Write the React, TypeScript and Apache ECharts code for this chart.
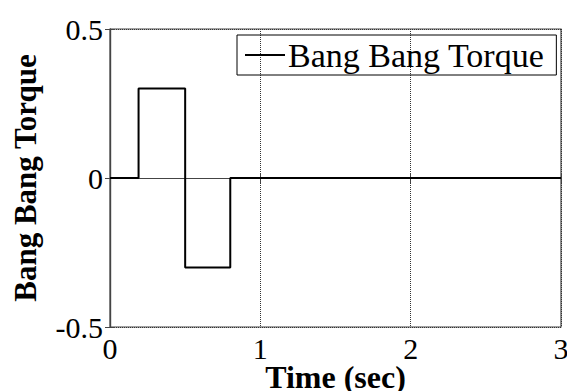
import React, { useEffect, useRef } from "react";
import * as echarts from "echarts";

// Step profile of the bang-bang control torque
const timeSec = [0, 0.19, 0.19, 0.5, 0.5, 0.8, 0.8, 3];
const torque = [0, 0, 0.3, 0.3, -0.3, -0.3, 0, 0];
const seriesName = "Bang Bang Torque";
const xTitle = "Time (sec)";
const yTitle = "Bang Bang Torque";

const FONT = "'Liberation Serif', 'Times New Roman', serif";

export default function App() {
  const ref = useRef<HTMLDivElement>(null);

  useEffect(() => {
    document.body.style.margin = "0";
    if (!ref.current) return;
    const chart = echarts.init(ref.current, undefined, { renderer: "svg" });
    const points = timeSec.map((t, i) => [t, torque[i]]);

    const dotted = { show: true, lineStyle: { color: "#333", type: "dotted" as const, width: 1 } };
    const axisLine = { show: true, lineStyle: { color: "#444", width: 1.2 } };
    const tick = { show: true, inside: true, length: 5, lineStyle: { color: "#444" } };

    chart.setOption({
      animation: false,
      backgroundColor: "#fff",
      grid: {
        left: 110,
        top: 29,
        right: 6,
        bottom: 64,
        containLabel: false,
        outerBoundsMode: "none",
        show: true,
        borderColor: "#444",
        borderWidth: 1.2,
      },
      legend: {
        show: true,
        data: [{ name: seriesName, icon: "rect" }],
        left: 237,
        top: 35,
        padding: [3, 12, 3, 8],
        borderColor: "#000",
        borderWidth: 1,
        itemWidth: 40,
        itemHeight: 2,
        itemGap: 4,
        itemStyle: { color: "#000" },
        textStyle: { fontFamily: FONT, fontSize: 34, color: "#000", padding: [0, 0, 0, -2] },
      },
      xAxis: [
        {
          type: "value",
          min: 0,
          max: 3,
          interval: 1,
          name: xTitle,
          nameLocation: "middle",
          nameGap: 34,
          nameMoveOverlap: false,
          nameTextStyle: { fontFamily: FONT, fontSize: 32, fontWeight: "bold", color: "#000" },
          axisLine,
          axisTick: tick,
          axisLabel: { fontFamily: FONT, fontSize: 30, color: "#000", margin: 6 },
          splitLine: dotted,
        },
        {
          type: "value",
          position: "top",
          min: 0,
          max: 3,
          interval: 1,
          axisLine,
          axisTick: tick,
          axisLabel: { show: false },
          splitLine: { show: false },
        },
      ],
      yAxis: [
        {
          type: "value",
          min: -0.5,
          max: 0.5,
          interval: 0.5,
          name: yTitle,
          nameLocation: "middle",
          nameGap: 69,
          nameMoveOverlap: false,
          nameTextStyle: { fontFamily: FONT, fontSize: 31, fontWeight: "bold", color: "#000" },
          axisLine,
          axisTick: tick,
          axisLabel: { fontFamily: FONT, fontSize: 30, color: "#000", margin: 7 },
          splitLine: dotted,
        },
        {
          type: "value",
          position: "right",
          min: -0.5,
          max: 0.5,
          interval: 0.5,
          axisLine,
          axisTick: tick,
          axisLabel: { show: false },
          splitLine: { show: false },
        },
      ],
      series: [
        {
          name: seriesName,
          type: "line",
          data: points,
          symbol: "none",
          lineStyle: { color: "#000", width: 2 },
          itemStyle: { color: "#000" },
          z: 5,
        },
      ],
    });

    return () => chart.dispose();
  }, []);

  return <div ref={ref} style={{ width: 567, height: 391 }} />;
}
